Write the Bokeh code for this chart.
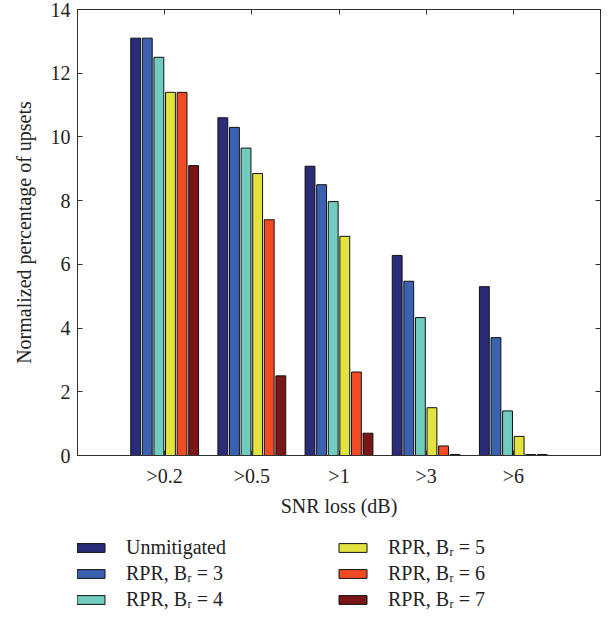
from bokeh.plotting import figure
from bokeh.layouts import column
from bokeh.models import (Range1d, LinearAxis, Legend, LegendItem,
                          ColumnDataSource, FixedTicker)
from bokeh.embed import file_html
from bokeh.resources import INLINE

# ---- data ----
categories = [">0.2", ">0.5", ">1", ">3", ">6"]
series_labels = ["Unmitigated", "RPR, Bᵣ = 3", "RPR, Bᵣ = 4",
                 "RPR, Bᵣ = 5", "RPR, Bᵣ = 6", "RPR, Bᵣ = 7"]
unmitigated = [13.1, 10.6, 9.08, 6.28, 5.3]
rpr_br3 = [13.1, 10.3, 8.5, 5.47, 3.7]
rpr_br4 = [12.5, 9.65, 7.97, 4.33, 1.4]
rpr_br5 = [11.4, 8.85, 6.88, 1.5, 0.6]
rpr_br6 = [11.4, 7.4, 2.62, 0.3, 0.03]
rpr_br7 = [9.1, 2.5, 0.7, 0.03, 0.03]
series_values = [unmitigated, rpr_br3, rpr_br4, rpr_br5, rpr_br6, rpr_br7]
colors = ["#2B2C78", "#3A62B0", "#71CCC0", "#E3E33F", "#F24B24", "#7B1517"]
y_ticks = [0, 2, 4, 6, 8, 10, 12, 14]

FONT = "Liberation Serif"
FS = "20px"
TXT = "#222222"

xs = [i + 1 for i in range(len(categories))]

p = figure(width=603, height=520, output_backend="svg", toolbar_location=None,
           x_range=Range1d(0, len(categories) + 1), y_range=Range1d(0, 14),
           min_border_left=77, min_border_right=3, min_border_top=9,
           min_border_bottom=65)
p.grid.visible = False
p.outline_line_color = "#303030"

pitch = 0.133
bw = 0.113
sources = []
for k, (vals, col) in enumerate(zip(series_values, colors)):
    off = (k - (len(series_values) - 1) / 2) * pitch
    src = ColumnDataSource(dict(x=[x + off for x in xs], top=vals))
    sources.append(src)
    p.vbar(x="x", top="top", width=bw, bottom=0, source=src,
           fill_color=col, line_color="#111111", line_width=1)

def style_axis(ax):
    ax.axis_line_color = "#303030"
    ax.major_tick_line_color = "#303030"
    ax.major_tick_in = 5
    ax.major_tick_out = 0
    ax.minor_tick_line_color = None
    ax.major_label_text_font = FONT
    ax.major_label_text_font_size = FS
    ax.major_label_text_color = TXT
    ax.axis_label_text_font = FONT
    ax.axis_label_text_font_size = FS
    ax.axis_label_text_font_style = "normal"
    ax.axis_label_text_color = TXT

xax = p.xaxis[0]
xax.ticker = FixedTicker(ticks=xs)
xax.major_label_overrides = {x: c for x, c in zip(xs, categories)}
xax.axis_label = "SNR loss (dB)"
style_axis(xax)
xax.major_label_standoff = 9
xax.axis_label_standoff = 5

yax = p.yaxis[0]
yax.ticker = FixedTicker(ticks=y_ticks)
yax.axis_label = "Normalized percentage of upsets"
style_axis(yax)
yax.major_label_standoff = 7
yax.axis_label_standoff = 13

top_ax = LinearAxis(ticker=FixedTicker(ticks=xs))
style_axis(top_ax)
top_ax.major_label_overrides = {x: "" for x in xs}
top_ax.major_label_standoff = 0
p.add_layout(top_ax, "above")
right_ax = LinearAxis(ticker=FixedTicker(ticks=y_ticks))
style_axis(right_ax)
right_ax.major_label_overrides = {t: "" for t in y_ticks}
right_ax.major_label_standoff = 0
p.add_layout(right_ax, "right")

# ---- legend panel (same series, drawn outside its visible y window) ----
lp = figure(width=603, height=91, output_backend="svg", toolbar_location=None,
            x_range=Range1d(0, len(categories) + 1), y_range=Range1d(100, 101),
            x_axis_location=None, y_axis_location=None,
            min_border=0)
lp.grid.visible = False
lp.outline_line_color = None

swatches = []
for src, col in zip(sources, colors):
    swatches.append(lp.vbar(x="x", top="top", width=bw, bottom=0, source=src,
                            fill_color=col, line_color="#111111", line_width=1))

def make_legend(items, loc):
    return Legend(items=items, location=loc, orientation="vertical",
                  glyph_width=35, glyph_height=11, label_height=20,
                  spacing=3, padding=0, margin=0, label_standoff=18,
                  label_text_font=FONT, label_text_font_size=FS,
                  label_text_color=TXT, border_line_color=None,
                  background_fill_alpha=0)

items = [LegendItem(label=l, renderers=[r]) for l, r in zip(series_labels, swatches)]
lp.add_layout(make_legend(items[:3], (-4, 0)))
lp.add_layout(make_legend(items[3:], (258, 0)))

layout = column(p, lp, spacing=0)
open("out.html", "w").write(file_html(layout, INLINE))
